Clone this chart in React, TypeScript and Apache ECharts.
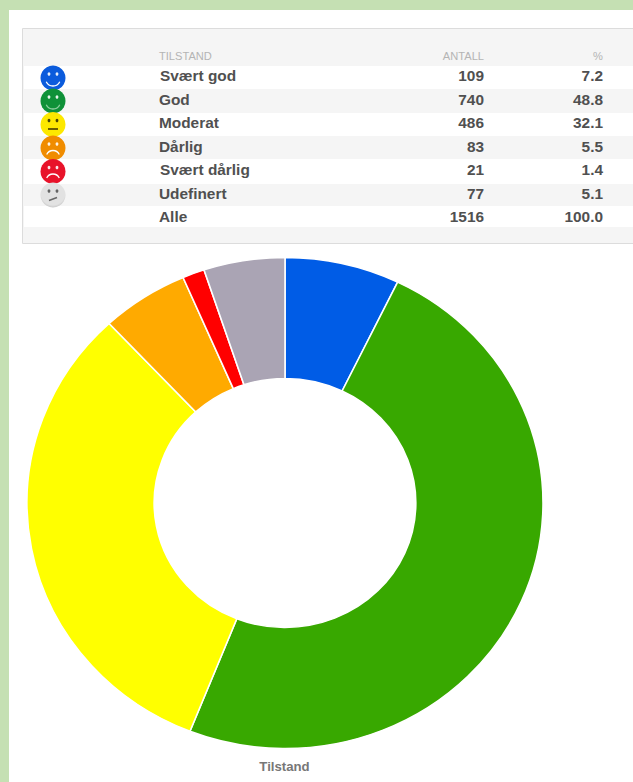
import React, { useEffect, useRef } from "react";
import * as echarts from "echarts";

const headers = ["TILSTAND", "ANTALL", "%"];
const states = ["Svært god", "God", "Moderat", "Dårlig", "Svært dårlig", "Udefinert"];
const counts = [109, 740, 486, 83, 21, 77];
const percents = ["7.2", "48.8", "32.1", "5.5", "1.4", "5.1"];
const totalLabel = "Alle";
const totalCount = "1516";
const totalPercent = "100.0";
const sliceColors = ["#005ce6", "#38a800", "#ffff00", "#ffaa00", "#ff0000", "#aaa4b4"];
const faceColors = ["#0b5bdc", "#0f9138", "#fde800", "#f08c00", "#e8132a", "#e2e2e2"];
const faceMoods = ["happy", "happy", "neutral", "sad", "sad", "unsure"];
const chartTitle = "Tilstand";

const rowTextY = [76.5, 100.5, 123.5, 147, 170.5, 194.5, 217];
const rowBands = [
  [66, 23, "#ffffff"], [89, 24, "#f5f5f5"], [113, 23, "#ffffff"], [136, 23, "#f5f5f5"],
  [159, 25, "#ffffff"], [184, 22, "#f5f5f5"], [206, 21, "#ffffff"],
];
const faceY = [78, 101, 124.5, 148, 171.5, 195];

function face(i: number) {
  const cx = 53;
  const cy = faceY[i];
  const mood = faceMoods[i];
  const base = faceColors[i];
  const isGrey = mood === "unsure";
  const isYellow = i === 2;
  const ink = isGrey ? "#555555" : isYellow ? "#333300" : "#ffffff";
  const mouthInk = isGrey ? "#666666" : isYellow ? "#6b5f00" : i === 1 ? "#8fd0a0" : "#ffffff";
  const children: any[] = [
    {
      type: "circle",
      shape: { cx, cy, r: 12.5 },
      style: {
        fill: new echarts.graphic.RadialGradient(0.5, 0.42, 0.6, [
          { offset: 0, color: base },
          { offset: 0.8, color: base },
          { offset: 1, color: isGrey ? "#c4c4c4" : base },
        ]),
      },
    },
    { type: "ellipse", shape: { cx: cx - 4, cy: cy - 4, rx: 1.4, ry: 1.8 }, style: { fill: ink, opacity: 0.9 } },
    { type: "ellipse", shape: { cx: cx + 4, cy: cy - 4, rx: 1.4, ry: 1.8 }, style: { fill: ink, opacity: 0.9 } },
  ];
  if (mood === "happy") {
    children.push({
      type: "arc",
      shape: { cx, cy: cy + 0.5, r: 7.5, startAngle: 0.45, endAngle: Math.PI - 0.45, clockwise: true },
      style: { stroke: mouthInk, lineWidth: 1.3, fill: "none" },
    });
  } else if (mood === "sad") {
    children.push({
      type: "arc",
      shape: { cx, cy: cy + 9.5, r: 7, startAngle: Math.PI + 0.45, endAngle: -0.45, clockwise: true },
      style: { stroke: mouthInk, lineWidth: 1.3, fill: "none" },
    });
  } else if (mood === "neutral") {
    children.push({
      type: "rect",
      shape: { x: cx - 5, y: cy + 3.5, width: 10, height: 2 },
      style: { fill: mouthInk },
    });
  } else {
    children.push({
      type: "line",
      shape: { x1: cx - 4, y1: cy + 5.5, x2: cx + 4, y2: cy + 2.5 },
      style: { stroke: mouthInk, lineWidth: 1.4 },
    });
  }
  return { type: "group", silent: true, children };
}

const FONT = "'Liberation Sans', Arial, sans-serif";
function label(text: string, x: number, y: number, align: string, size: number, color: string, bold: boolean, stretch = 1.1) {
  return {
    type: "text",
    x,
    y,
    scaleX: stretch,
    silent: true,
    style: {
      text,
      fill: color,
      font: `${bold ? "bold " : ""}${size}px ${FONT}`,
      textAlign: align,
      textVerticalAlign: "middle",
    },
  };
}

export default function App() {
  const pageRef = useRef<HTMLDivElement>(null);
  const pieRef = useRef<HTMLDivElement>(null);

  useEffect(() => {
    document.body.style.margin = "0";
    const page = echarts.init(pageRef.current!, undefined, { renderer: "svg" });
    const pie = echarts.init(pieRef.current!, undefined, { renderer: "svg" });

    const TEXT = "#505050";
    const HEAD = "#b4b4b4";
    const elements: any[] = [
      { type: "rect", shape: { x: 0, y: 0, width: 633, height: 782 }, style: { fill: "#c5e0b3" } },
      { type: "rect", shape: { x: 9, y: 10, width: 624, height: 772 }, style: { fill: "#ffffff" } },
      {
        type: "rect",
        shape: { x: 22.5, y: 28.5, width: 620, height: 215 },
        style: { fill: "#f5f5f5", stroke: "#dcdcdc", lineWidth: 1 },
      },
    ];
    rowBands.forEach(([y, h, fill]) => {
      elements.push({
        type: "rect",
        shape: { x: 24, y: y as number, width: 609, height: h as number },
        style: { fill: fill as string },
      });
    });
    elements.push(label(headers[0], 159, 56, "left", 10.5, HEAD, false, 1.06));
    elements.push(label(headers[1], 484, 56, "right", 10.5, HEAD, false, 1.06));
    elements.push(label(headers[2], 603, 56, "right", 10.5, HEAD, false, 1.06));
    states.forEach((s, i) => {
      const indent = s.startsWith("Svært") ? 160 : 159;
      elements.push(face(i));
      elements.push(label(s, indent, rowTextY[i], "left", 14, TEXT, true));
      elements.push(label(String(counts[i]), 484, rowTextY[i], "right", 14, TEXT, true));
      elements.push(label(percents[i], 603, rowTextY[i], "right", 14, TEXT, true));
    });
    elements.push(label(totalLabel, 159, rowTextY[6], "left", 14, TEXT, true));
    elements.push(label(totalCount, 484, rowTextY[6], "right", 14, TEXT, true));
    elements.push(label(totalPercent, 603, rowTextY[6], "right", 14, TEXT, true));
    elements.push(label(chartTitle, 284.5, 767, "center", 12, "#777777", true));

    page.setOption({ animation: false, graphic: { elements } });

    pie.setOption({
      animation: false,
      series: [
        {
          type: "pie",
          radius: [124.5, 245.5],
          center: ["50%", "50%"],
          startAngle: 90,
          clockwise: true,
          silent: true,
          label: { show: false },
          labelLine: { show: false },
          itemStyle: { borderColor: "#ffffff", borderWidth: 1.5 },
          data: states.map((name, i) => ({
            name,
            value: counts[i],
            itemStyle: { color: sliceColors[i] },
          })),
        },
      ],
    });

    return () => {
      page.dispose();
      pie.dispose();
    };
  }, []);

  return (
    <div style={{ position: "relative", width: 633, height: 782, overflow: "hidden" }}>
      <div ref={pageRef} style={{ position: "absolute", left: 0, top: 0, width: 633, height: 782 }} />
      <div
        ref={pieRef}
        style={{
          position: "absolute",
          left: 34.75,
          top: 252.5,
          width: 500,
          height: 500,
          transform: `scaleX(${516 / 491})`,
          transformOrigin: "50% 50%",
        }}
      />
    </div>
  );
}
